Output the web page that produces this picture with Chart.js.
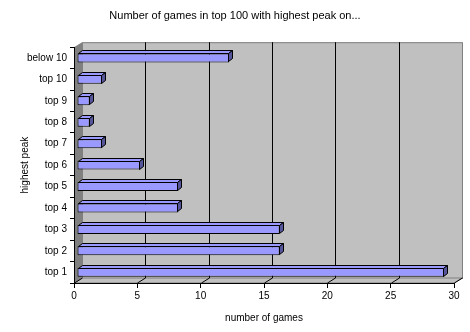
<!DOCTYPE html>
<html>
<head>
<meta charset="utf-8">
<script src="https://cdn.jsdelivr.net/npm/chart.js@4"></script>
<style>
  html, body { margin: 0; padding: 0; background: #fff; }
  #wrap { width: 470px; height: 332px; }
</style>
</head>
<body>
<div id="wrap"><canvas id="peaks" width="470" height="332"></canvas></div>
<script>
// peak position groups, bottom to top
var categories = ['top 1', 'top 2', 'top 3', 'top 4', 'top 5', 'top 6', 'top 7', 'top 8', 'top 9', 'top 10', 'below 10'];
var games = [29, 16, 16, 8, 8, 5, 2, 1, 1, 2, 12];
var axisMin = 0;
var axisMax = 30;
var axisStep = 5;

var DX = 8, DY = -5;      // depth of the walls
var BDX = 4, BDY = -3;    // depth of each bar
var SHIFT = 3;            // bars sit a little behind the front plane

Chart.defaults.font.family = '"Liberation Sans", Arial, sans-serif';
Chart.defaults.font.size = 10;
Chart.defaults.color = '#000';

// old-office style 3d box: side wall, floor, back wall with gridlines
var walls = {
  id: 'walls',
  beforeDraw: function (chart) {
    var ctx = chart.ctx, a = chart.chartArea, xs = chart.scales.x;
    var l = a.left, r = a.right, t = a.top, b = a.bottom;
    ctx.save();
    // back wall
    ctx.fillStyle = '#c0c0c0';
    ctx.strokeStyle = '#808080';
    ctx.lineWidth = 1;
    ctx.fillRect(l + DX, t + DY, r - l, b - t);
    ctx.strokeRect(l + DX + 0.5, t + DY + 0.5, r - l, b - t);
    // floor
    ctx.beginPath();
    ctx.moveTo(l, b);
    ctx.lineTo(l + DX, b + DY);
    ctx.lineTo(r + DX, b + DY);
    ctx.lineTo(r, b);
    ctx.closePath();
    ctx.fillStyle = '#c0c0c0';
    ctx.fill();
    ctx.stroke();
    // left wall
    ctx.beginPath();
    ctx.moveTo(l, t);
    ctx.lineTo(l + DX, t + DY);
    ctx.lineTo(l + DX, b + DY);
    ctx.lineTo(l, b);
    ctx.closePath();
    ctx.fillStyle = '#808080';
    ctx.fill();
    // gridlines on the back wall and across the floor
    ctx.strokeStyle = '#000';
    xs.ticks.forEach(function (tk) {
      var px = Math.round(xs.getPixelForValue(tk.value)) + 0.5;
      if (tk.value > axisMin && tk.value < axisMax) {
        ctx.beginPath();
        ctx.moveTo(px + DX, t + DY);
        ctx.lineTo(px + DX, b + DY);
        ctx.stroke();
      }
      ctx.beginPath();
      ctx.moveTo(px, b);
      ctx.lineTo(px + DX, b + DY);
      ctx.stroke();
    });
    ctx.restore();
  },
  beforeDatasetsDraw: function (chart) {
    chart.ctx.save();
    chart.ctx.translate(SHIFT, 0);
  },
  afterDatasetsDraw: function (chart) {
    var ctx = chart.ctx;
    chart.getDatasetMeta(0).data.forEach(function (bar) {
      var p = bar.getProps(['x', 'y', 'base', 'height'], true);
      var y0 = Math.round(p.y - p.height / 2) + 0.5;
      var y1 = Math.round(p.y + p.height / 2) - 0.5;
      var x0 = Math.round(p.base) + 0.5;
      var x1 = Math.round(p.x) - 0.5;
      ctx.lineWidth = 1;
      ctx.strokeStyle = '#000';
      // top face
      ctx.beginPath();
      ctx.moveTo(x0, y0);
      ctx.lineTo(x0 + BDX, y0 + BDY);
      ctx.lineTo(x1 + BDX, y0 + BDY);
      ctx.lineTo(x1, y0);
      ctx.closePath();
      ctx.fillStyle = '#9999ff';
      ctx.fill();
      ctx.stroke();
      // right face
      ctx.beginPath();
      ctx.moveTo(x1, y0);
      ctx.lineTo(x1 + BDX, y0 + BDY);
      ctx.lineTo(x1 + BDX, y1 + BDY);
      ctx.lineTo(x1, y1);
      ctx.closePath();
      ctx.fillStyle = '#55559a';
      ctx.fill();
      ctx.stroke();
    });
    ctx.restore();
  }
};

new Chart(document.getElementById('peaks'), {
  type: 'bar',
  data: {
    labels: categories,
    datasets: [{
      data: games,
      backgroundColor: '#9999ff',
      borderColor: '#000',
      borderWidth: 1,
      borderSkipped: false,
      categoryPercentage: 1,
      barPercentage: 0.42
    }]
  },
  options: {
    indexAxis: 'y',
    responsive: false,
    animation: false,
    layout: { padding: 0 },
    plugins: {
      legend: { display: false },
      tooltip: { enabled: false },
      title: {
        display: true,
        text: 'Number of games in top 100 with highest peak on...',
        font: { size: 11, weight: 'normal' },
        color: '#000',
        padding: { top: 9, bottom: 25 }
      }
    },
    scales: {
      x: {
        min: axisMin,
        max: axisMax,
        ticks: { stepSize: axisStep, padding: 2, maxRotation: 0 },
        grid: { drawOnChartArea: false, tickLength: 5, color: '#000' },
        border: { color: '#000' },
        title: { display: true, text: 'number of games', padding: { top: 0, bottom: 8 } },
        afterFit: function (s) { s.height = 49; }
      },
      y: {
        reverse: true,
        ticks: { padding: 3 },
        grid: { drawOnChartArea: false, tickLength: 4, color: '#000', offset: true },
        border: { color: '#000' },
        title: { display: true, text: 'highest peak', padding: { top: 19, bottom: 0 } },
        afterFit: function (s) { s.width = 74; }
      },
      // empty strip on the right for the wall depth
      yRight: {
        type: 'category',
        position: 'right',
        ticks: { display: false },
        grid: { display: false },
        border: { display: false },
        afterFit: function (s) { s.width = 16; }
      }
    }
  },
  plugins: [walls]
});
</script>
</body>
</html>
